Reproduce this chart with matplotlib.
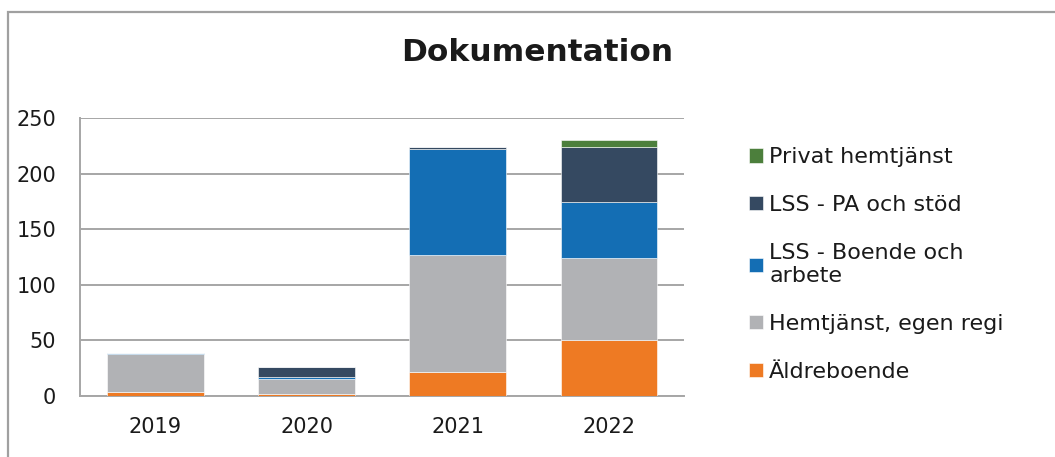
import numpy as np
import matplotlib.pyplot as plt
from matplotlib.patches import Rectangle

# ---------------------------------------------------------------- data
years = ['2019', '2020', '2021', '2022']
aldreboende = [4, 2, 22, 50]
hemtjanst_egen = [34, 13, 105, 74]
lss_boende = [1, 2, 95, 50]
lss_pa = [0, 9, 2, 50]
privat_hemtjanst = [0, 0, 0, 6]

serier = [
    ('Äldreboende', aldreboende, '#EE7A23'),
    ('Hemtjänst, egen regi', hemtjanst_egen, '#B1B2B5'),
    ('LSS - Boende och\narbete', lss_boende, '#146EB4'),
    ('LSS - PA och stöd', lss_pa, '#354961'),
    ('Privat hemtjänst', privat_hemtjanst, '#4C7F3C'),
]

plt.rcParams['font.family'] = ['DejaVu Sans']

fig = plt.figure(figsize=(10.55, 4.57), dpi=100)
ax = fig.add_axes([0.0758, 0.1335, 0.573, 0.6085])

x = np.arange(len(years))
bottom = np.zeros(len(years))
for nombre, vals, color in serier:
    ax.bar(x, vals, 0.64, bottom=bottom, color=color, label=nombre,
           edgecolor='white', linewidth=0.4, zorder=3)
    bottom += np.array(vals)

ax.set_ylim(0, 250)
ax.set_xlim(-0.5, 3.5)
ax.set_yticks(range(0, 251, 50))
ax.set_xticks(x)
ax.set_xticklabels(years)
ax.grid(axis='y', color='#A6A6A6', linewidth=1.4, zorder=0)
for lado in ['top', 'right']:
    ax.spines[lado].set_visible(False)
for lado in ['left', 'bottom']:
    ax.spines[lado].set_color('#A6A6A6')
    ax.spines[lado].set_linewidth(1.4)
ax.tick_params(axis='y', length=0, pad=17, labelsize=15, labelcolor='#1a1a1a')
ax.tick_params(axis='x', length=0, pad=15, labelsize=15, labelcolor='#1a1a1a')

fig.text(0.509, 0.886, 'Dokumentation', ha='center', va='center',
         fontsize=22.5, fontweight='bold', color='#1a1a1a')

# leyenda en orden inverso (como Excel)
h, l = ax.get_legend_handles_labels()
fig.legend(h[::-1], l[::-1], loc='upper left', bbox_to_anchor=(0.6997, 0.702),
           frameon=False, fontsize=16, borderpad=0, labelspacing=1.25,
           handlelength=0.6, handleheight=0.6, handletextpad=0.3,
           labelcolor='#1a1a1a')

# borde del grafico
fig.patches.append(Rectangle((0.0076, -0.2), 1.5, 1.174, transform=fig.transFigure,
                             fill=False, edgecolor='#A0A0A0', linewidth=1.6))

fig.savefig('out.png', dpi=100)
